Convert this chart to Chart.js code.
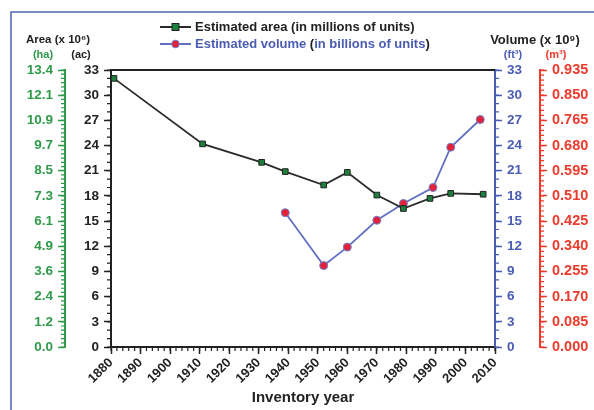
<!DOCTYPE html>
<html>
<head>
<meta charset="utf-8">
<script src="https://cdn.jsdelivr.net/npm/chart.js@4.4.0/dist/chart.umd.min.js"></script>
<style>
  html, body { margin: 0; padding: 0; background: #fff; }
  #wrap { width: 594px; height: 410px; position: relative; }
</style>
</head>
<body>
<div id="wrap"><canvas id="myChart" width="594" height="410"></canvas></div>
<script>
// data
const areaYears = [1881, 1911, 1931, 1939, 1952, 1960, 1970, 1979, 1988, 1995, 2006];
const areaValues = [32.0, 24.2, 22.0, 20.9, 19.3, 20.8, 18.1, 16.5, 17.7, 18.3, 18.2];
const volumeYears = [1939, 1952, 1960, 1970, 1979, 1989, 1995, 2005];
const volumeValues = [16.0, 9.7, 11.9, 15.1, 17.1, 19.0, 23.8, 27.1];

const yearTicks = [1880, 1890, 1900, 1910, 1920, 1930, 1940, 1950, 1960, 1970, 1980, 1990, 2000, 2010];
const yTickValues = [0, 3, 6, 9, 12, 15, 18, 21, 24, 27, 30, 33];
const acLabels = ["0", "3", "6", "9", "12", "15", "18", "21", "24", "27", "30", "33"];
const haLabels = ["0.0", "1.2", "2.4", "3.6", "4.9", "6.1", "7.3", "8.5", "9.7", "10.9", "12.1", "13.4"];
const ft3Labels = ["0", "3", "6", "9", "12", "15", "18", "21", "24", "27", "30", "33"];
const m3Labels = ["0.000", "0.085", "0.170", "0.255", "0.340", "0.425", "0.510", "0.595", "0.680", "0.765", "0.850", "0.935"];

const GREEN = "#2f9a4a";
const BLUE = "#4a5cb4";
const RED = "#ee3a2c";
const DARK = "#222222";
const FONT = "'Liberation Sans', Arial, sans-serif";

function yAxis(pos, weight, width, color, labels, minorStep, fontSize) {
  return {
    type: "linear",
    position: pos,
    weight: weight,
    min: 0,
    max: 33,
    minorStep: minorStep,
    afterBuildTicks: (scale) => { scale.ticks = yTickValues.map((v) => ({ value: v })); },
    afterFit: (scale) => { scale.width = width; },
    border: { display: true, color: color, width: 2 },
    grid: { drawOnChartArea: false, color: color, tickLength: 7, tickWidth: 1.5 },
    ticks: {
      color: color,
      padding: 5,
      font: { family: FONT, size: fontSize, weight: "bold" },
      callback: (v) => labels[yTickValues.indexOf(v)],
    },
  };
}

// small ticks between the labelled ones, plus frame, legend and axis headings
const decorPlugin = {
  id: "decor",
  afterDraw(chart) {
    const ctx = chart.ctx;
    const ca = chart.chartArea;
    ctx.save();

    // minor ticks
    Object.values(chart.scales).forEach((s) => {
      const step = s.options.minorStep;
      if (!step) return;
      ctx.strokeStyle = s.options.border.color;
      ctx.lineWidth = 1.2;
      ctx.beginPath();
      for (let v = s.min; v <= s.max + 1e-9; v += step) {
        const p = s.getPixelForValue(v);
        if (s.axis === "x") {
          ctx.moveTo(p, s.top);
          ctx.lineTo(p, s.top + 4);
        } else if (s.position === "left") {
          ctx.moveTo(s.right, p);
          ctx.lineTo(s.right - 4, p);
        } else {
          ctx.moveTo(s.left, p);
          ctx.lineTo(s.left + 4, p);
        }
      }
      ctx.stroke();
    });

    // top edge of the plot
    ctx.strokeStyle = DARK;
    ctx.lineWidth = 2;
    ctx.beginPath();
    ctx.moveTo(ca.left - 1, ca.top);
    ctx.lineTo(ca.right, ca.top);
    ctx.stroke();

    // outer frame
    ctx.strokeStyle = "#4d66b0";
    ctx.lineWidth = 1.5;
    ctx.strokeRect(11, 12, 600, 420);

    // legend
    const items = [
      { ds: chart.data.datasets[0], parts: [["Estimated area (in millions of units)", DARK]], y: 27 },
      { ds: chart.data.datasets[1], parts: [["Estimated volume ", BLUE], ["(", DARK], ["in billions of units", BLUE], [")", DARK]], y: 44 },
    ];
    items.forEach((it) => {
      ctx.strokeStyle = it.ds.borderColor;
      ctx.lineWidth = 2;
      ctx.beginPath();
      ctx.moveTo(160, it.y);
      ctx.lineTo(191, it.y);
      ctx.stroke();
      ctx.fillStyle = it.ds.pointBackgroundColor;
      ctx.strokeStyle = it.ds.pointBorderColor;
      ctx.lineWidth = 1;
      if (it.ds.pointStyle === "rect") {
        ctx.fillRect(172, it.y - 3.5, 7, 7);
        ctx.strokeRect(172, it.y - 3.5, 7, 7);
      } else {
        ctx.beginPath();
        ctx.arc(175.5, it.y, 3.8, 0, Math.PI * 2);
        ctx.fill();
        ctx.stroke();
      }
      ctx.font = "bold 13px " + FONT;
      ctx.textAlign = "left";
      ctx.textBaseline = "middle";
      let x = 195;
      it.parts.forEach(([t, c]) => {
        ctx.fillStyle = c;
        ctx.fillText(t, x, it.y);
        x += ctx.measureText(t).width;
      });
    });

    // axis headings
    ctx.textAlign = "center";
    ctx.textBaseline = "middle";
    ctx.fillStyle = DARK;
    ctx.font = "bold 11.5px " + FONT;
    ctx.fillText("Area (x 10\u2076)", 58, 40);
    ctx.font = "bold 13px " + FONT;
    ctx.fillText("Volume (x 10\u2079)", 535, 40);
    ctx.font = "bold 11px " + FONT;
    ctx.fillStyle = GREEN;
    ctx.fillText("(ha)", 43, 55);
    ctx.fillStyle = DARK;
    ctx.fillText("(ac)", 81, 55);
    ctx.fillStyle = BLUE;
    ctx.fillText("(ft\u00b3)", 513, 55);
    ctx.fillStyle = RED;
    ctx.fillText("(m\u00b3)", 556, 55);

    ctx.restore();
  },
};

const ctx = document.getElementById("myChart");
new Chart(ctx, {
  type: "line",
  data: {
    datasets: [
      {
        label: "Estimated area (in millions of units)",
        data: areaYears.map((y, i) => ({ x: y, y: areaValues[i] })),
        yAxisID: "yAc",
        borderColor: "#2a2a2a",
        borderWidth: 1.8,
        pointStyle: "rect",
        pointRadius: 4,
        pointBackgroundColor: "#1c7f3c",
        pointBorderColor: "#222",
        pointBorderWidth: 1,
      },
      {
        label: "Estimated volume (in billions of units)",
        data: volumeYears.map((y, i) => ({ x: y, y: volumeValues[i] })),
        yAxisID: "yFt",
        borderColor: "#6070c4",
        borderWidth: 1.8,
        pointStyle: "circle",
        pointRadius: 4,
        pointBackgroundColor: "#e3223a",
        pointBorderColor: "#7080cc",
        pointBorderWidth: 1,
      },
    ],
  },
  options: {
    responsive: false,
    animation: false,
    layout: { padding: { top: 70, left: 0, right: 0, bottom: 0 } },
    plugins: { legend: { display: false }, tooltip: { enabled: false } },
    scales: {
      x: {
        type: "linear",
        min: 1880,
        max: 2010,
        minorStep: 2,
        afterBuildTicks: (scale) => { scale.ticks = yearTicks.map((v) => ({ value: v })); },
        afterFit: (scale) => { scale.height = 63; },
        border: { display: true, color: DARK, width: 2 },
        grid: { drawOnChartArea: false, color: DARK, tickLength: 7, tickWidth: 1.5 },
        ticks: {
          color: DARK,
          padding: 1,
          minRotation: 45,
          maxRotation: 45,
          font: { family: FONT, size: 13, weight: "bold" },
          callback: (v) => String(v),
        },
        title: {
          display: true,
          text: "Inventory year",
          color: DARK,
          padding: { top: 0, bottom: 3 },
          font: { family: FONT, size: 15, weight: "bold" },
        },
      },
      yAc: yAxis("left", 0, 46, DARK, acLabels, 1, 13.5),
      yHa: yAxis("left", 1, 65, GREEN, haLabels, 0.5, 13.5),
      yFt: yAxis("right", 0, 45, BLUE, ft3Labels, 1, 13.5),
      yM3: yAxis("right", 1, 54, RED, m3Labels, 0.6, 14.5),
    },
  },
  plugins: [decorPlugin],
});
</script>
</body>
</html>
